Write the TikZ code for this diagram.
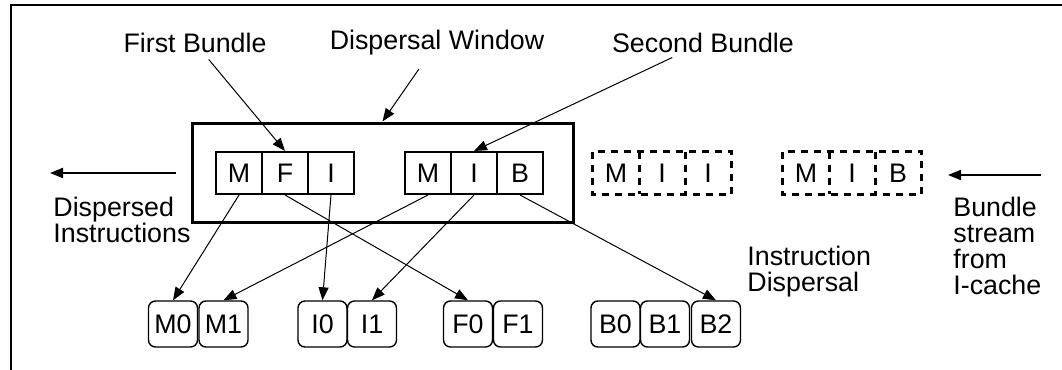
\documentclass[tikz,border=0pt]{standalone}
\usepackage{fontspec}
\setmainfont{Liberation Sans}
\usetikzlibrary{arrows.meta}
\tikzset{cell/.style={rectangle, draw, line width=1pt, minimum width=23pt, minimum height=21pt, inner sep=0pt},
  dcell/.style={rectangle, minimum width=23pt, minimum height=21pt, inner sep=0pt},
  unit/.style={rectangle, draw, rounded corners=3.5pt, line width=0.7pt, minimum width=24.5pt, minimum height=23pt, inner sep=0pt},
  lbl/.style={inner sep=0pt, align=left},
  dline/.style={line width=1.3pt, dash pattern=on 3.5pt off 3pt}}

\begin{document}
\begin{tikzpicture}[x=0.5pt, y=-0.5pt, >={Triangle[length=6.5pt,width=5pt]}, font=\fontsize{13.4}{13}\selectfont]
\useasboundingbox (0,0) rectangle (1062,370);
\draw[line width=1.3pt] (11,370) -- (11,5) -- (1062,5);
% dispersal window
\node[draw, line width=1.5pt, minimum width=190.5pt, minimum height=49.5pt, inner sep=0pt] (W) at (382.5,172.5) {};
\node[cell] (C1M) at (239,173) {M};
\node[cell] (C1F) at (285,173) {F};
\node[cell] (C1I) at (331,173) {I};
\node[cell] (C2M) at (428,173) {M};
\node[cell] (C2I) at (474,173) {I};
\node[cell] (C2B) at (520,173) {B};
% bundles still in the stream
\node[dcell] (C3M) at (616,173) {M};
\node[dcell] (C3I) at (662,173) {I};
\node[dcell] (C3J) at (708,173) {I};
\node[dcell] (C4M) at (806,173) {M};
\node[dcell] (C4I) at (852,173) {I};
\node[dcell] (C4B) at (898,173) {B};
\draw[dline] (C3M.north west) rectangle (C3J.south east);
\draw[dline] (C3M.north east) -- (C3M.south east);
\draw[dline] (C3I.north east) -- (C3I.south east);
\draw[dline] (C4M.north west) rectangle (C4B.south east);
\draw[dline] (C4M.north east) -- (C4M.south east);
\draw[dline] (C4I.north east) -- (C4I.south east);
% execution units
\node[unit] (UM0) at (173,324) {M0};
\node[unit] (UM1) at (223.5,324) {M1};
\node[unit] (UI0) at (322.5,324) {I0};
\node[unit] (UI1) at (372,324) {I1};
\node[unit] (UF0) at (468,324) {F0};
\node[unit] (UF1) at (518,324) {F1};
\node[unit] (UB0) at (615.5,324) {B0};
\node[unit] (UB1) at (665,324) {B1};
\node[unit] (UB2) at (716,324) {B2};
% labels
\node[lbl] (LFB) at (195,43) {First Bundle};
\node[lbl] (LDW) at (437,43) {Dispersal Window};
\node[lbl] (LSB) at (703,43) {Second Bundle};
\node[lbl, anchor=west] (LDI) at (53,220) {Dispersed\\Instructions};
\node[lbl, anchor=west] (LID) at (747,272) {Instruction\\Dispersal};
\node[lbl, anchor=west] (LBS) at (953,246) {Bundle\\stream\\from\\I-cache};
\coordinate (DL) at (50,173);
\coordinate (SR0) at (1041,175);
\coordinate (SR1) at (948,175);
\draw[->, line width=0.5pt, shorten <=4pt] (LFB) -- (C1F.north);
\draw[->, line width=0.5pt, shorten <=8pt] (LDW) -- (W.north);
\draw[->, line width=0.5pt, shorten <=5pt] (LSB) -- (C2I.north);
\draw[->, line width=1pt, shorten <=7.5pt] (W.west |- DL) -- (DL);
\draw[->, line width=1pt] (SR0) -- (SR1);
% dispersal to units
\draw[->, line width=0.5pt] (C1M.south) -- (UM0.north);
\draw[->, line width=0.5pt] (C1F.south) -- (UF0.north);
\draw[->, line width=0.5pt] (C1I.south) -- (UI0.north);
\draw[->, line width=0.5pt] (C2M.south) -- (UM1.north);
\draw[->, line width=0.5pt] (C2I.south) -- (UI1.north);
\draw[->, line width=0.5pt] (C2B.south) -- (UB2.north);
\end{tikzpicture}
\end{document}
